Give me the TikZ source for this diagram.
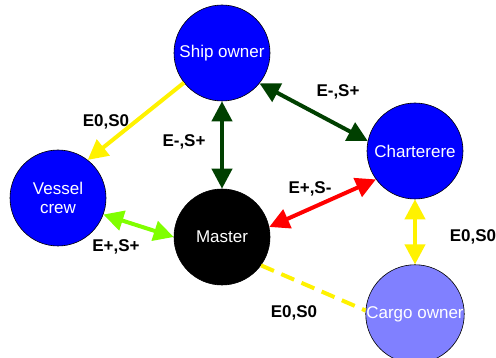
\documentclass[tikz,border=0pt]{standalone}
\usepackage{fontspec}
\setmainfont{Liberation Sans}
\usetikzlibrary{arrows.meta}
\definecolor{dgreen}{RGB}{0,64,0}
\definecolor{lgreen}{RGB}{128,255,0}
\definecolor{cargo}{RGB}{128,128,255}
\tikzset{
  actor/.style={circle,draw=black,line width=0.6pt,minimum size=96pt,inner sep=0pt,text=white,font=\fontsize{17}{19}\selectfont,align=center},
  rel/.style={line width=4pt},
  tip/.style={-{Triangle[length=20pt,width=20pt]}},
  bitip/.style={{Triangle[length=20pt,width=20pt]}-{Triangle[length=20pt,width=20pt]}},
  lab/.style={font=\fontsize{17}{19}\selectfont\bfseries,inner sep=0pt}
}
\begin{document}
\begin{tikzpicture}[x=1pt,y=-1pt]
\useasboundingbox (0,0) rectangle (496,358);
\node[actor,fill=blue] (ship) at (222,53) {Ship owner};
\node[actor,fill=blue] (crew) at (58,198) {Vessel\\crew};
\node[actor,fill=black] (master) at (222,237) {Master};
\node[actor,fill=blue] (chart) at (415,151) {Charterere};
\node[actor,fill=cargo] (cargo) at (415,314) {Cargo owner};

\draw[rel,yellow,tip] (ship.218) -- (crew.52);
\draw[rel,dgreen,bitip] (ship.south) -- (master.north);
\draw[rel,dgreen,bitip] (ship.-39) -- (chart.168);
\draw[rel,lgreen,bitip] (crew.-20) -- (master.180);
\draw[rel,red,bitip] (master.12) -- (chart.216);
\draw[rel,yellow,bitip] (chart.south) -- (cargo.north);
\draw[rel,yellow,dash pattern=on 14pt off 8pt] (master.-36) -- (cargo.176);

\node[lab] (l1) at (106,122) {E0,S0};
\node[lab] (l2) at (184,142) {E-,S+};
\node[lab] (l3) at (338,92) {E-,S+};
\node[lab] (l4) at (116,247) {E+,S+};
\node[lab] (l5) at (310,189) {E+,S-};
\node[lab] (l6) at (473,237) {E0,S0};
\node[lab] (l7) at (294,313) {E0,S0};
\end{tikzpicture}
\end{document}
